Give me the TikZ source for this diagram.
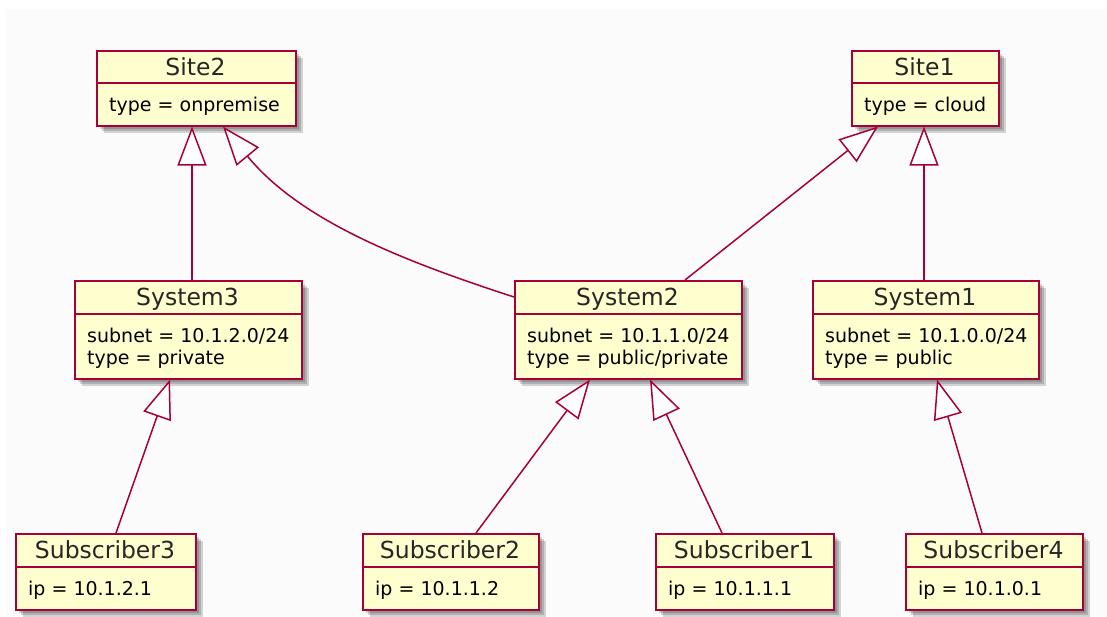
\documentclass[tikz,border=0pt]{standalone}
\usepackage{fontspec}
\setmainfont{DejaVu Sans}
\usetikzlibrary{arrows.meta,calc}
\definecolor{objfill}{HTML}{FEFECE}
\definecolor{objborder}{HTML}{A80036}
\definecolor{bgc}{HTML}{FBFBFB}
\tikzset{
  objbox/.style={draw=objborder, fill=objfill, line width=1.5pt, inner sep=0pt, anchor=north west, rectangle},
  sepline/.style={draw=objborder, line width=1.5pt},
  hdr/.style={font=\fontsize{23.5}{26}\selectfont, text=black!85, inner sep=0pt, anchor=base},
  attr/.style={font=\fontsize{19}{22}\selectfont, text=black, inner sep=0pt, anchor=base west},
  shadowlayer/.style={fill=black, opacity=0.16},
  ext/.style={draw=objborder, line width=1.5pt, -{Triangle[length=39pt, width=29pt, fill=white]}},
}
\newcommand\umlobj[9]{%
  % #1 name #2 x1 #3 y1 #4 x2 #5 ysep #6 y2 #7 title #8 attr1 #9 attr2
  \foreach \o in {2,4,6,8}{\fill[shadowlayer] (#2+\o,#3+\o) rectangle (#4+\o,#6+\o);}
  \node[objbox, minimum width={(#4-#2)*1pt}, minimum height={(#6-#3)*1pt}] (#1) at (#2,#3) {};
  \draw[sepline] (#1.west |- 0,#5) -- (#1.east |- 0,#5);
  \node[hdr] (#1-title) at ({(#2+#4)/2},#3+25) {#7};
  \node[attr] (#1-a1) at (#2+13,#5+28) {#8};
  \node[attr] (#1-a2) at (#2+13,#5+50) {#9};
}
\begin{document}
\begin{tikzpicture}[x=1pt,y=-1pt]
\fill[white] (0,0) rectangle (1107,616);
\fill[bgc] (6,9) rectangle (1107,616);
\useasboundingbox (0,0) rectangle (1107,616);

\umlobj{site2}{96}{50}{295}{83}{125}{Site2}{type = onpremise}{}
\umlobj{site1}{851}{50}{998}{83}{125}{Site1}{type = cloud}{}
\umlobj{sys3}{74}{280}{301}{314}{378}{System3}{subnet = 10.1.2.0/24}{type = private}
\umlobj{sys2}{514}{280}{741}{314}{378}{System2}{subnet = 10.1.1.0/24}{type = public/private}
\umlobj{sys1}{812}{280}{1038}{314}{378}{System1}{subnet = 10.1.0.0/24}{type = public}
\umlobj{sub3}{15}{533}{195}{567}{609}{Subscriber3}{ip = 10.1.2.1}{}
\umlobj{sub2}{362}{533}{538}{567}{609}{Subscriber2}{ip = 10.1.1.2}{}
\umlobj{sub1}{655}{533}{833}{567}{609}{Subscriber1}{ip = 10.1.1.1}{}
\umlobj{sub4}{905}{533}{1082}{567}{609}{Subscriber4}{ip = 10.1.0.1}{}

% connectors
\draw[ext] ($(sys3.north west)+(118,0)$) -- ($(site2.south west)+(96,0)$);
\draw[ext] ($(sys2.north west)+(0,17)$) .. controls (400,260) and (300,220) .. ($(site2.south west)+(127,0)$);
\draw[ext] ($(sys2.north west)+(171,0)$) -- ($(site1.south west)+(27,0)$);
\draw[ext] ($(sys1.north west)+(112,0)$) -- ($(site1.south west)+(73,0)$);
\draw[ext] ($(sub3.north west)+(101,0)$) -- ($(sys3.south west)+(96,0)$);
\draw[ext] ($(sub2.north west)+(114,0)$) -- ($(sys2.south west)+(76,0)$);
\draw[ext] ($(sub1.north west)+(67,0)$) -- ($(sys2.south west)+(136,0)$);
\draw[ext] ($(sub4.north west)+(77,0)$) -- ($(sys1.south west)+(125,0)$);
\end{tikzpicture}
\end{document}
